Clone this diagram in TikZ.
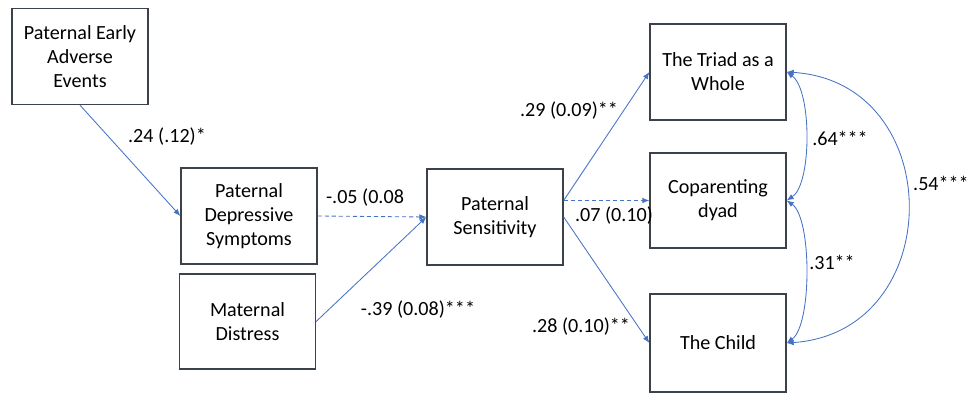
\documentclass[tikz,border=0pt]{standalone}
\usepackage{fontspec}
\setmainfont{Carlito}
\usepackage{tikz}
\usetikzlibrary{shapes,arrows.meta}
\definecolor{linkblue}{RGB}{68,114,196}
\definecolor{boxgray}{RGB}{60,66,74}
\tikzset{
	var/.style     = {draw=boxgray, line width=0.9pt, rectangle, align=center,
		minimum width=3.4cm, minimum height=2.4cm, inner sep=0pt,
		font=\fontsize{14.3}{17}\selectfont},
	link/.style    = {->, draw=linkblue, line width=0.6pt}, % path
	nslink/.style  = {link, dash pattern=on 3pt off 2pt}, % non significant
	corr/.style    = {<->, draw=linkblue, line width=0.6pt}, % covariance
	coef/.style    = {inner sep=0pt, font=\fontsize{14.3}{17}\selectfont}
}

\begin{document}
\begin{tikzpicture}[x=0.025cm, y=-0.025cm, >={Latex[length=5pt,width=4pt]}]
\useasboundingbox (0,0) rectangle (971,393);
\draw
% Drawing the variables
node at (80,56.5)[var] (early) {Paternal Early\\Adverse\\Events}
node at (249,216)[var] (depr) {Paternal\\Depressive\\Symptoms}
node at (247.5,321.5)[var, minimum height=2.375cm] (mdist) {Maternal\\Distress}
node at (495,217)[var] (sens) {Paternal\\Sensitivity}
node at (718,72)[var] (triad) {The Triad as a\\Whole}
node at (718,200.5)[var, minimum height=2.375cm] (copar) {Coparenting\\dyad}
node at (718,343)[var, minimum height=2.45cm] (child) {The Child};

% paths
\draw[link](early.south) -- (depr.west);
\draw[nslink](depr.east) -- (sens.west);
\draw[link](mdist.east) -- (sens.west);
\draw[link](sens.east |- copar.west) -- (triad.west);
\draw[nslink](sens.east |- copar.west) -- (copar.west);
\draw[link](sens.east) -- (child.west);

% covariances
\draw[corr](triad.east) .. controls (812,90) and (812,184) .. (copar.east);
\draw[corr](copar.east) .. controls (812,218) and (812,325) .. (child.east);
\draw[corr](triad.east) .. controls (948,82) and (948,332) .. (child.east);

% coefficients
\draw
node at (167,137)[coef] (c1) {.24 (.12)*}
node at (365,198)[coef] (c2) {-.05 (0.08}
node at (418,310)[coef] (c3) {-.39 (0.08)***}
node at (569,111)[coef] (c4) {.29 (0.09)**}
node at (614,216)[coef] (c5) {.07 (0.10)}
node at (581,327)[coef] (c6) {.28 (0.10)**}
node at (840,138)[coef] (c7) {.64***}
node at (832,262)[coef] (c8) {.31**}
node at (969,183)[coef, anchor=east] (c9) {.54***};
\end{tikzpicture}
\end{document}
